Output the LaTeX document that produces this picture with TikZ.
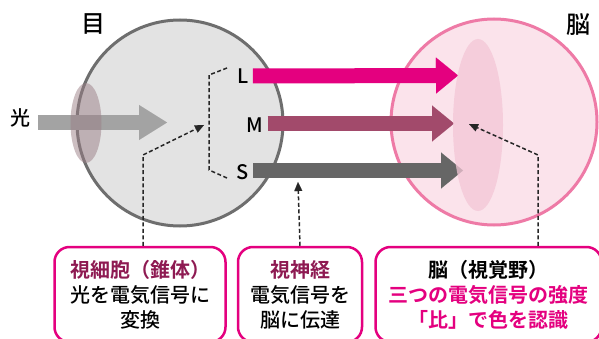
\documentclass[tikz,border=0pt]{standalone}
\usepackage{fontspec}
\setmainfont{Noto Sans CJK JP}[UprightFont={* Medium}, BoldFont={* Bold}]
\usepackage{tikz}
\usetikzlibrary{arrows.meta, shapes.geometric, positioning}

\definecolor{eyefill}{HTML}{E3E3E3}
\definecolor{eyeline}{HTML}{6E6E6E}
\definecolor{brainfill}{HTML}{FBE3EB}
\definecolor{brainline}{HTML}{EE7AA6}
\definecolor{cortexfill}{HTML}{F3C6D6}
\definecolor{lensfill}{HTML}{9B7F86}
\definecolor{lightcol}{HTML}{A3A3A3}
\definecolor{lcol}{HTML}{E4007F}
\definecolor{mcol}{HTML}{A24A6B}
\definecolor{scol}{HTML}{666666}
\definecolor{headcol}{HTML}{8E1A52}

\tikzset{
    textnode/.style = {draw=none, fill=none, inner sep=0em, align=center,
      font=\fontsize{20}{25}\selectfont},
    titlenode/.style = {textnode, font=\fontsize{24}{28}\selectfont},
    boxnode/.style = {draw=lcol, line width=2.5pt, rounded corners=15pt, fill=white,
      minimum height=95pt, inner sep=0pt, align=center, font=\fontsize{20}{25}\selectfont},
    ballnode/.style = {circle, line width=3pt, minimum size=206pt, inner sep=0pt},
    conearrow/.style = {line width=15pt, -{Triangle[length=22pt, width=36pt, line width=0.01pt]}},
    dashline/.style = {black!85, line width=1.5pt, dash pattern=on 4pt off 2.5pt},
    dashtip/.style = {dashline, -{Triangle[length=9pt, width=8pt, line width=0.01pt]}},
    every text node part/.style={align=center}
}

\begin{document}
\begin{tikzpicture}[x=1pt, y=-1pt]
    \useasboundingbox (0,0) rectangle (599,339);

    % eye with lens and incoming light
    \node [name=eye, ballnode, draw=eyeline, fill=eyefill] at (180,123) {};
    \node [name=light, textnode] at (20,118) {光};
    \coordinate (lightstart) at (38,122.5);
    \coordinate (lighttip) at (167,122.5);
    \draw [line width=15pt, lightcol, -{Triangle[length=28pt, width=35pt, line width=0.01pt]}]
        (lightstart) -- (lighttip);
    \node [name=lens, ellipse, fill=lensfill, fill opacity=0.5, minimum width=31pt,
        minimum height=80pt, inner sep=0pt] at (86,123) {};
    \node [name=eyetitle, titlenode] at (93,24) {目};

    % brain
    \node [name=brain, ballnode, draw=brainline, fill=brainfill] at (494,122) {};
    \node [name=braintitle, titlenode] at (578,25) {脳};

    % cone signals
    \node [name=L, textnode] at (243,76) {L};
    \node [name=M, textnode] at (255,125) {M};
    \node [name=S, textnode] at (243,172) {S};
    \coordinate (Ltip) at (458,75.5);
    \coordinate (Mtip) at (454,123.5);
    \coordinate (Stip) at (463,170.5);
    \draw [conearrow, lcol] (L.east) ++(4,0) -- (Ltip);
    \draw [conearrow, mcol] (M.east) ++(4,-1.5) -- (Mtip);
    \draw [conearrow, scol] (S.east) ++(4,-1.5) -- (Stip);

    \node [name=cortex, ellipse, fill=cortexfill, fill opacity=0.75, minimum width=50pt,
        minimum height=172pt, inner sep=0pt] at (478,125) {};

    % bracket over the three cones
    \coordinate (bra1) at (227,68);
    \coordinate (bra2) at (209,75);
    \coordinate (bra3) at (209,170);
    \coordinate (bra4) at (227,178);
    \draw [dashline] (bra1) -- (bra2) -- (bra3) -- (bra4);

    % explanation boxes
    \node [name=cellbox, boxnode, minimum width=171pt] at (140,294.5)
        {\textbf{\color{headcol}視細胞（錐体）}\\光を電気信号に\\変換};
    \node [name=nervebox, boxnode, minimum width=124pt, right=10pt of cellbox]
        {\textbf{\color{headcol}視神経}\\電気信号を\\脳に伝達};
    \node [name=cortexbox, boxnode, minimum width=226pt, right=11pt of nervebox]
        {\textbf{脳（視覚野）}\\\textbf{\color{lcol}三つの電気信号の強度}\\\textbf{\color{lcol}「比」で色を認識}};

    \coordinate (cellbend) at (143,155);
    \coordinate (celltip) at (204,125);
    \draw [dashtip] (cellbox.north -| cellbend) -- (cellbend) -- (celltip);

    \coordinate (nervetip) at (298,182);
    \draw [dashtip] (nervebox.north) -- (nervetip);

    \coordinate (cortexbend) at (538,155);
    \coordinate (cortextip) at (469,124);
    \draw [dashtip] (cortexbox.north -| cortexbend) -- (cortexbend) -- (cortextip);
\end{tikzpicture}
\end{document}
